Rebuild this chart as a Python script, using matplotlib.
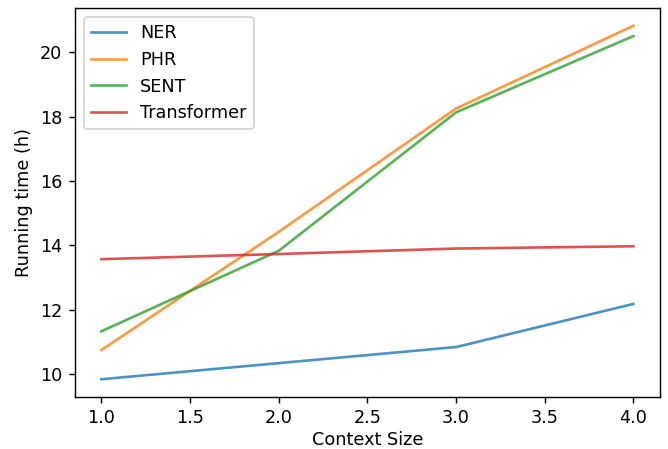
import matplotlib
matplotlib.use("Agg")
from matplotlib import pyplot as plt

context_size = [1.0, 2.0, 3.0, 4.0]
ner = [9.84, 10.34, 10.84, 12.18]
phr = [10.75, 14.42, 18.25, 20.82]
sent = [11.33, 13.83, 18.13, 20.5]
transformer = [13.57, 13.73, 13.9, 13.97]

# reference looks like a notebook figure rendered at a higher dpi
dpi = 127
fig, ax = plt.subplots(figsize=(668 / dpi, 449 / dpi), dpi=dpi)
fig.subplots_adjust(left=0.112, right=0.988, top=0.982, bottom=0.116)

ax.plot(context_size, ner, label="NER", alpha=0.8)
ax.plot(context_size, phr, label="PHR", alpha=0.8)
ax.plot(context_size, sent, label="SENT", alpha=0.8)
ax.plot(context_size, transformer, label="Transformer", alpha=0.8)

ax.set_xlabel("Context Size", labelpad=2)
ax.set_ylabel("Running time (h)")
ax.legend(loc="upper left")

plt.savefig("out.png")
